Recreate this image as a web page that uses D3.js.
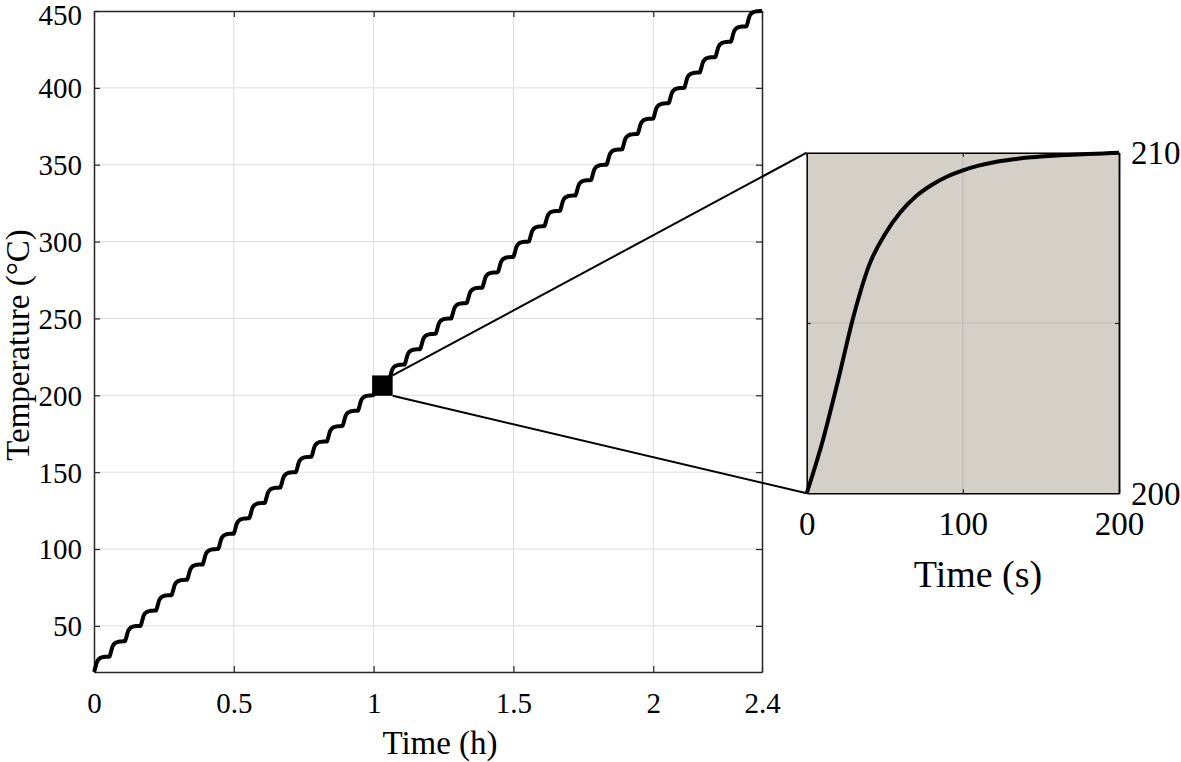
<!DOCTYPE html>
<html>
<head>
<meta charset="utf-8">
<script src="https://cdn.jsdelivr.net/npm/d3@7"></script>
<style>
	body { margin: 0; background: #fff; }
	text { font-family: "Liberation Serif", "DejaVu Serif", serif; fill: #000; }
</style>
</head>
<body>
<div id="chart"></div>
<script>
// one heating step as seen in the zoom box (s, °C)
const stepTimes = [0, 10, 20, 30, 40, 50, 60, 70, 80, 90, 100, 110, 120, 130, 140, 150, 160, 170, 180, 190, 200];
const stepTemps = [200, 201.5, 203.3, 205.2, 206.7, 207.6, 208.25, 208.72, 209.05, 209.3, 209.48,
	209.62, 209.72, 209.79, 209.85, 209.89, 209.92, 209.94, 209.96, 209.98, 210];

// start temperature of every 200 s step in the full ramp
const stepStarts = [20, 30, 40, 50, 60, 70, 80, 90, 100, 110, 120, 130, 140, 150, 160, 170, 180, 190,
	200, 210, 220, 230, 240, 250, 260, 270, 280, 290, 300, 310, 320, 330, 340, 350, 360, 370, 380,
	390, 400, 410, 420, 430, 440];
const stepLength = 200; // s

const xTicks = [0, 0.5, 1, 1.5, 2, 8600 / 3600];
const xTickLabels = ['0', '0.5', '1', '1.5', '2', '2.4'];
const yTicks = [50, 100, 150, 200, 250, 300, 350, 400, 450];

const insetXTicks = [0, 100, 200];
const insetYTicks = [200, 210];
const zoomStep = 18; // the 200 -> 210 step

//-----------------------------------------------------
var W = 1181, H = 762;
var svg = d3.select('#chart').append('svg')
	.attr('width', W)
	.attr('height', H);

// build the full ramp from the step profile
var ramp = [];
stepStarts.forEach(function(s, i) {
	stepTimes.forEach(function(t, j) {
		if (i > 0 && j == 0) return;
		ramp.push({ h: (i * stepLength + t) / 3600, T: s + stepTemps[j] - stepTemps[0] });
	});
});

var x = d3.scaleLinear().domain([0, stepStarts.length * stepLength / 3600]).range([94, 762]);
var y = d3.scaleLinear().domain([20, 450]).range([672, 11]);

var main = svg.append('g');

// grid
main.selectAll('.gx').data(xTicks.slice(1, -1)).enter()
	.append('line')
	.attr('x1', d => x(d)).attr('x2', d => x(d))
	.attr('y1', y.range()[0]).attr('y2', y.range()[1])
	.attr('stroke', '#dedede').attr('stroke-width', 1);
main.selectAll('.gy').data(yTicks.slice(0, -1)).enter()
	.append('line')
	.attr('y1', d => y(d)).attr('y2', d => y(d))
	.attr('x1', x.range()[0]).attr('x2', x.range()[1])
	.attr('stroke', '#dedede').attr('stroke-width', 1);

// axes, ticks inside on all four sides
var tk = 6;
main.append('g').attr('transform', 'translate(0,' + y.range()[0] + ')')
	.call(d3.axisBottom(x).tickValues(xTicks).tickSizeInner(-tk).tickSizeOuter(0)
		.tickFormat((d, i) => xTickLabels[i]));
main.append('g').attr('transform', 'translate(0,' + y.range()[1] + ')')
	.call(d3.axisTop(x).tickValues(xTicks).tickSizeInner(-tk).tickSizeOuter(0).tickFormat(''));
main.append('g').attr('transform', 'translate(' + x.range()[0] + ',0)')
	.call(d3.axisLeft(y).tickValues(yTicks).tickSizeInner(-tk).tickSizeOuter(0));
main.append('g').attr('transform', 'translate(' + x.range()[1] + ',0)')
	.call(d3.axisRight(y).tickValues(yTicks).tickSizeInner(-tk).tickSizeOuter(0).tickFormat(''));

main.selectAll('.domain').attr('stroke', '#262626').attr('stroke-width', 1.5);
main.selectAll('.tick line').attr('stroke', '#262626').attr('stroke-width', 1.2);
main.selectAll('.tick text').attr('font-size', 29).attr('font-family', null);
main.selectAll('.tick text').filter(function() { return this.parentNode.parentNode.getAttribute('text-anchor') == 'middle'; })
	.attr('y', 20).attr('dy', '0.71em');
main.selectAll('.tick text').filter(function() { return this.parentNode.parentNode.getAttribute('text-anchor') == 'end'; })
	.attr('x', -12).attr('dy', function(d) { return d == 450 ? '0.46em' : '0.34em'; });

// the ramp
main.append('path')
	.datum(ramp)
	.attr('fill', 'none')
	.attr('stroke', '#000')
	.attr('stroke-width', 4)
	.attr('stroke-linejoin', 'round')
	.attr('d', d3.line().x(d => x(d.h)).y(d => y(d.T)).curve(d3.curveMonotoneX));

main.append('text')
	.attr('x', 440).attr('y', 754)
	.attr('text-anchor', 'middle')
	.attr('font-size', 33)
	.text('Time (h)');
main.append('text')
	.attr('transform', 'translate(29,345) rotate(-90)')
	.attr('text-anchor', 'middle')
	.attr('font-size', 33)
	.text('Temperature (°C)');

//-----------------------------------------------------
// inset
var ix = d3.scaleLinear().domain([0, stepLength]).range([806.7, 1119]);
var iy = d3.scaleLinear().domain([200, 210]).range([493.3, 152.7]);

// marker square on the ramp and the two leader lines
var t0 = zoomStep * stepLength / 3600, t1 = (zoomStep + 1) * stepLength / 3600;
var T0 = stepStarts[zoomStep], T1 = stepStarts[zoomStep + 1];
var sw = 5;
svg.append('rect')
	.attr('x', x(t0) + 1).attr('y', y(T1) - 2)
	.attr('width', x(t1) - x(t0)).attr('height', y(T0) - y(T1))
	.attr('fill', '#000').attr('stroke', '#000').attr('stroke-width', sw);
svg.append('line')
	.attr('x1', x(t1) + 1 + sw / 2).attr('y1', y(T1) - 2 - sw / 2)
	.attr('x2', ix(0)).attr('y2', iy(210))
	.attr('stroke', '#000').attr('stroke-width', 2);
svg.append('line')
	.attr('x1', x(t1) + 1 + sw / 2).attr('y1', y(T0) - 2 + sw / 2)
	.attr('x2', ix(0)).attr('y2', iy(200))
	.attr('stroke', '#000').attr('stroke-width', 2);

var inset = svg.append('g');
inset.append('rect')
	.attr('x', ix(0)).attr('y', iy(210))
	.attr('width', ix(200) - ix(0)).attr('height', iy(200) - iy(210))
	.attr('fill', '#d4d0c8');
inset.append('line')
	.attr('x1', ix(100)).attr('x2', ix(100))
	.attr('y1', iy(200)).attr('y2', iy(210))
	.attr('stroke', '#bcb9b3').attr('stroke-width', 1.2);
inset.append('line')
	.attr('y1', iy(205)).attr('y2', iy(205))
	.attr('x1', ix(0)).attr('x2', ix(200))
	.attr('stroke', '#bcb9b3').attr('stroke-width', 1.2);

var itk = 4;
inset.append('g').attr('transform', 'translate(0,' + iy(200) + ')')
	.call(d3.axisBottom(ix).tickValues(insetXTicks).tickSizeInner(-itk).tickSizeOuter(0));
inset.append('g').attr('transform', 'translate(0,' + iy(210) + ')')
	.call(d3.axisTop(ix).tickValues(insetXTicks).tickSizeInner(-itk).tickSizeOuter(0).tickFormat(''));
inset.append('g').attr('transform', 'translate(' + ix(0) + ',0)')
	.call(d3.axisLeft(iy).tickValues([205]).tickSizeInner(-itk).tickSizeOuter(0).tickFormat(''));
inset.append('g').attr('transform', 'translate(' + ix(200) + ',0)')
	.call(d3.axisRight(iy).tickValues([205]).tickSizeInner(-itk).tickSizeOuter(0).tickFormat(''));
inset.append('g').attr('transform', 'translate(' + ix(200) + ',0)')
	.call(d3.axisRight(iy).tickValues(insetYTicks).tickSize(0));

inset.selectAll('.domain').attr('stroke', '#000').attr('stroke-width', 1.5);
inset.selectAll('.tick line').attr('stroke', '#262626').attr('stroke-width', 1.2);
inset.selectAll('.tick text').attr('font-size', 33).attr('font-family', null);
inset.selectAll('.tick text').filter(function() { return this.parentNode.parentNode.getAttribute('text-anchor') == 'middle'; })
	.attr('y', 18).attr('dy', '0.71em');
inset.selectAll('.tick text').filter(function() { return this.parentNode.parentNode.getAttribute('text-anchor') == 'start'; })
	.attr('x', 12).attr('dy', '0.34em');

inset.append('path')
	.datum(stepTimes.map((t, i) => ({ t: t, T: stepTemps[i] })))
	.attr('fill', 'none')
	.attr('stroke', '#000')
	.attr('stroke-width', 4)
	.attr('stroke-linejoin', 'round')
	.attr('d', d3.line().x(d => ix(d.t)).y(d => iy(d.T)).curve(d3.curveMonotoneX));

inset.append('text')
	.attr('x', 978).attr('y', 587)
	.attr('text-anchor', 'middle')
	.attr('font-size', 38)
	.text('Time (s)');
</script>
</body>
</html>
